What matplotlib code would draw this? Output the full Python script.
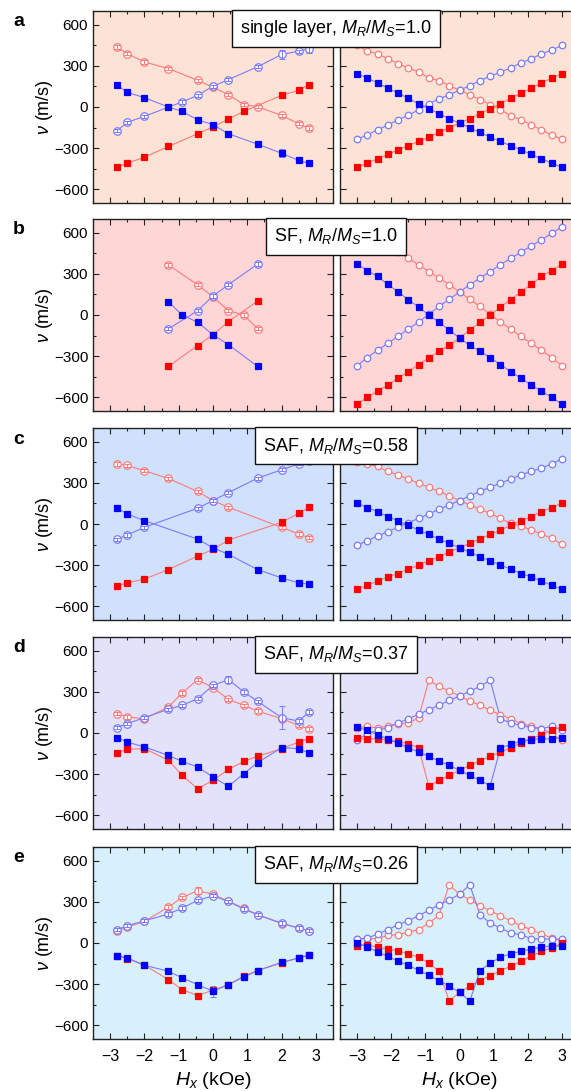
import matplotlib
matplotlib.use("Agg")
import matplotlib.pyplot as plt
from matplotlib.ticker import MultipleLocator

plt.rcParams.update(
    {
        "font.family": ["Liberation Sans", "DejaVu Sans"],
        "mathtext.fontset": "custom",
        "mathtext.rm": "Liberation Sans",
        "mathtext.it": "Liberation Sans:italic",
        "mathtext.bf": "Liberation Sans:bold",
        "axes.linewidth": 1.0,
        "axes.edgecolor": "#222222",
        "xtick.direction": "in",
        "ytick.direction": "in",
        "xtick.top": True,
        "ytick.right": True,
        "xtick.minor.visible": True,
        "ytick.minor.visible": True,
    }
)

# ---- data -----------------------------------------------------------------
# measured field values (kOe); None = no point at that field
H_EXP = [-2.8, -2.5, -2.0, -1.3, -0.9, -0.45, 0.0, 0.45, 0.9, 1.3, 2.0, 2.5, 2.8]
# simulated field values (kOe)
H_SIM = [-3.0, -2.7, -2.4, -2.1, -1.8, -1.5, -1.2, -0.9, -0.6, -0.3, 0.0,
         0.3, 0.6, 0.9, 1.2, 1.5, 1.8, 2.1, 2.4, 2.7, 3.0]

LABELS = ["single layer, $M_R/M_S$=1.0", "SF, $M_R/M_S$=1.0", "SAF, $M_R/M_S$=0.58",
          "SAF, $M_R/M_S$=0.37", "SAF, $M_R/M_S$=0.26"]
LETTERS = ["a", "b", "c", "d", "e"]
BG = ["#FDE3D5", "#FFD6D6", "#CFE1FC", "#E2E2FA", "#D8F0FB"]

# panel a: single layer
A_EXP_RC = [437, 388, 329, 280, None, 195, 144, 90, 17, 2, -61, -122, -154]
A_EXP_BC = [-173, -112, -68, None, 37, 85, 151, 200, None, 293, 383, 407, 424]
A_EXP_RS = [-439, -410, -366, -288, None, -195, -146, -88, -32, None, 85, 122, 163]
A_EXP_BS = [159, 107, 68, 0, -32, -93, -129, -195, None, -271, -337, -390, -410]
A_SIM_RC = [449, 407, 388, 351, 317, 285, 256, 212, 193, 156, 122, 90, 54, 17, -20,
            -63, -93, -132, -166, -205, -234]
A_SIM_BC = [-234, -205, -166, -132, -93, -61, -20, 24, 59, 90, 122, 156, 193, 224, 254,
            285, 322, 351, 388, 415, 449]
A_SIM_RS = [-439, -410, -376, -346, -312, -283, -251, -220, -185, -151, -117, -85, -49,
            -12, 24, 63, 102, 137, 176, 210, 244]
A_SIM_BS = [244, 210, 176, 137, 102, 63, 24, -12, -49, -85, -117, -151, -185, -220, -251,
            -283, -312, -346, -376, -410, -439]

# panel b: SF
B_EXP_RC = [None, None, None, 365, None, 221, 132, 31, 0, -101, None, None, None]
B_EXP_BC = [None, None, None, -101, None, 31, 139, 221, None, 372, None, None, None]
B_EXP_RS = [None, None, None, -375, None, -223, -144, -48, None, 101, None, None, None]
B_EXP_BS = [None, None, None, 96, 0, -53, -144, -216, None, -375, None, None, None]
B_SIM_RC = [643, 595, 549, 503, 459, 413, 367, 317, 269, 221, 168, 115, 62, 5, -52,
            -103, -156, -207, -257, -310, -370]
B_SIM_BC = [-370, -310, -257, -207, -156, -103, -52, 5, 62, 115, 168, 221, 269, 317, 367,
            413, 459, 503, 549, 595, 643]
B_SIM_RS = [-650, -600, -555, -510, -462, -412, -362, -312, -264, -221, -168, -110, -53,
            0, 58, 113, 168, 223, 281, 324, 372]
B_SIM_BS = [372, 324, 281, 223, 168, 113, 58, 0, -53, -110, -168, -221, -264, -312, -362,
            -412, -462, -510, -555, -600, -650]

# panel c: SAF, MR/MS = 0.58
C_EXP_RC = [437, 427, 388, 332, None, 237, 171, 122, None, None, -24, -73, -100]
C_EXP_BC = [-112, -80, -24, None, None, 115, 171, 229, None, 334, 395, 439, 456]
C_EXP_RS = [-451, -429, -402, -332, None, -234, -185, -117, None, None, 12, 78, 122]
C_EXP_BS = [115, 73, 24, None, None, -110, -173, -222, None, -332, -393, -429, -439]
C_SIM_RC = [455, 437, 420, 383, 359, 327, 298, 268, 237, 205, 171, 139, 107, 78, 41, 5,
            -15, -44, -73, -105, -149]
C_SIM_BC = [-154, -122, -88, -56, -24, 10, 41, 73, 107, 139, 171, 205, 237, 268, 298,
            327, 359, 383, 407, 439, 473]
C_SIM_RS = [-476, -446, -417, -385, -361, -329, -300, -268, -239, -205, -173, -141, -110,
            -76, -44, -10, 24, 54, 90, 120, 151]
C_SIM_BS = [151, 120, 90, 54, 24, -10, -44, -76, -110, -141, -173, -205, -239, -268,
            -300, -329, -361, -385, -417, -446, -476]

# panel d: SAF, MR/MS = 0.37
D_EXP_RC = [141, 117, 104, 190, 292, 389, 330, 245, 202, 160, 104, 56, 29]
D_EXP_BC = [39, 68, 112, 173, 202, 250, 347, 389, 299, 231, 112, 87, 153]
D_EXP_RS = [-143, -119, -114, -199, -309, -406, -345, -265, -207, -170, -114, -66, -41]
D_EXP_BS = [-34, -66, -102, -163, -207, -248, -321, -389, -296, -216, -107, -114, -146]
D_SIM_RC = [39, 49, 36, 51, 68, 73, 109, 384, 340, 306, 270, 233, 202, 165, 134, 104,
            68, 51, 32, -5, -53]
D_SIM_BC = [-53, -5, 19, 39, 73, 104, 136, 170, 202, 238, 270, 304, 340, 384, 104, 73,
            56, 39, 32, 49, 24]
D_SIM_RS = [-36, -46, -41, -53, -61, -78, -107, -386, -345, -309, -272, -236, -204, -170,
            -139, -107, -73, -41, -12, 19, 44]
D_SIM_BS = [44, 19, -12, -46, -73, -107, -139, -170, -204, -236, -272, -309, -345, -386,
            -109, -83, -58, -49, -41, -46, -34]

# panel e: SAF, MR/MS = 0.26
E_EXP_RC = [90, 114, 158, 262, 332, 381, 356, 303, 255, 206, 141, 109, 90]
E_EXP_BC = [97, 126, 162, 211, 255, 310, 344, 303, 247, 206, 145, 109, 90]
E_EXP_RS = [-92, -114, -162, -267, -340, -383, -344, -303, -242, -201, -145, -109, -85]
E_EXP_BS = [-92, -109, -162, -206, -255, -303, -352, -303, -247, -201, -141, -109, -90]
E_SIM_RC = [29, 32, 32, 56, 61, 80, 97, 145, 201, 424, 356, 315, 272, 235, 199, 162, 126,
            97, 65, 36, 12]
E_SIM_BC = [29, 36, 65, 97, 133, 162, 199, 238, 279, 315, 356, 424, 206, 145, 109, 73,
            61, 32, 29, 29, 29]
E_SIM_RS = [-19, -12, -32, -44, -56, -80, -104, -146, -206, -424, -359, -315, -274, -238,
            -201, -170, -133, -97, -61, -36, 0]
E_SIM_BS = [0, -29, -65, -97, -133, -162, -199, -235, -274, -315, -359, -424, -201, -146,
            -104, -78, -61, -44, -32, -19, -24]

# typical error bar (m/s) and the few larger ones: (panel, series, field, error)
ERR_DEFAULT = 12
ERR_BIG = [("a", "BC", 2.0, 30), ("a", "BS", 2.0, 30), ("a", "BC", 2.8, 30),
           ("d", "BC", 2.0, 85), ("d", "BC", 0.45, 25),
           ("e", "BS", 0.0, 40), ("e", "RC", -0.45, 25)]

EXP = [
    (A_EXP_RC, A_EXP_BC, A_EXP_RS, A_EXP_BS),
    (B_EXP_RC, B_EXP_BC, B_EXP_RS, B_EXP_BS),
    (C_EXP_RC, C_EXP_BC, C_EXP_RS, C_EXP_BS),
    (D_EXP_RC, D_EXP_BC, D_EXP_RS, D_EXP_BS),
    (E_EXP_RC, E_EXP_BC, E_EXP_RS, E_EXP_BS),
]
SIM = [
    (A_SIM_RC, A_SIM_BC, A_SIM_RS, A_SIM_BS),
    (B_SIM_RC, B_SIM_BC, B_SIM_RS, B_SIM_BS),
    (C_SIM_RC, C_SIM_BC, C_SIM_RS, C_SIM_BS),
    (D_SIM_RC, D_SIM_BC, D_SIM_RS, D_SIM_BS),
    (E_SIM_RC, E_SIM_BC, E_SIM_RS, E_SIM_BS),
]

# ---- styles ---------------------------------------------------------------
RED, BLUE = "#ff0000", "#0000ff"
RED_LT, BLUE_LT = "#ff7a7a", "#7a7aff"
SERIES = [("RC", "o", "white", RED_LT, RED_LT),
          ("BC", "o", "white", BLUE_LT, BLUE_LT),
          ("RS", "s", RED, RED, RED_LT),
          ("BS", "s", BLUE, BLUE, BLUE_LT)]

W, H = 571, 1091
TOPS = [11, 219, 428, 637, 847]
PH = 192


def px_axes(fig, x0, top, w, h):
    return fig.add_axes([x0 / W, 1 - (top + h) / H, w / W, h / H])


def style_axes(ax, bg, show_y, show_x):
    ax.set_facecolor(bg)
    ax.set_xlim(-3.5, 3.5)
    ax.set_ylim(-700, 700)
    ax.xaxis.set_major_locator(MultipleLocator(1))
    ax.xaxis.set_minor_locator(MultipleLocator(0.5))
    ax.yaxis.set_major_locator(MultipleLocator(300))
    ax.yaxis.set_minor_locator(MultipleLocator(150))
    ax.tick_params(which="major", length=4.5, width=0.8, color="#222222")
    ax.tick_params(which="minor", length=2.5, width=0.8, color="#222222")
    ax.tick_params(axis="y", labelsize=11, pad=3.5, labelleft=show_y)
    ax.tick_params(axis="x", labelsize=11.5, pad=7, labelbottom=show_x)
    for sp in ax.spines.values():
        sp.set_linewidth(1.0)


def plot_panel(ax, hs, series_vals, ms_s, ms_o, panel=None):
    for (key, marker, fc, ec, lc), vals in zip(SERIES, series_vals):
        pts = [(h, v) for h, v in zip(hs, vals) if v is not None]
        x = [p[0] for p in pts]
        y = [p[1] for p in pts]
        ms = ms_o if marker == "o" else ms_s
        z = 3 if marker == "o" else 4
        zm = z + (0.5 if key.startswith("B") else 0)
        ax.plot(x, y, color=lc, lw=0.8, zorder=z - 1)
        ax.plot(x, y, ls="none", marker=marker, ms=ms, mfc=fc, mec=ec,
                mew=0.9, zorder=zm)
        if panel is not None:
            err = [ERR_DEFAULT] * len(x)
            for p, k, hh, e in ERR_BIG:
                if p == panel and k == key and hh in x:
                    err[x.index(hh)] = e
            # error bars sit on top of the open circles, behind the filled squares
            ez = zm + 0.2 if marker == "o" else zm - 0.2
            ax.errorbar(x, y, yerr=err, fmt="none", ecolor=lc, elinewidth=0.7,
                        capsize=2.0, capthick=0.7, zorder=ez)


fig = plt.figure(figsize=(W / 100, H / 100), dpi=100)

for i, top in enumerate(TOPS):
    last = i == len(TOPS) - 1
    axl = px_axes(fig, 93, top, 240, PH)
    axr = px_axes(fig, 340, top, 239, PH)
    style_axes(axl, BG[i], True, last)
    style_axes(axr, BG[i], False, last)

    plot_panel(axl, H_EXP, EXP[i], 5.0, 5.4, panel=LETTERS[i])
    plot_panel(axr, H_SIM, SIM[i], 4.4, 4.7)

    axl.set_ylabel(r"$\nu$ (m/s)", fontsize=13)
    axl.yaxis.set_label_coords(-0.158, 0.5)
    if last:
        for ax in (axl, axr):
            ax.set_xlabel(r"$H_x$ (kOe)", fontsize=14)
            ax.xaxis.set_label_coords(0.5, -0.16)

    fig.text(19 / W, 1 - (top + 11) / H, LETTERS[i], fontsize=14, fontweight="bold",
             ha="center", va="center")
    fig.text(336 / W, 1 - (top + 17.5) / H, LABELS[i], fontsize=13, ha="center",
             va="center", zorder=10,
             bbox=dict(boxstyle="square,pad=0.45", fc="white", ec="#111111", lw=1.0))

fig.savefig("out.png", dpi=100)
